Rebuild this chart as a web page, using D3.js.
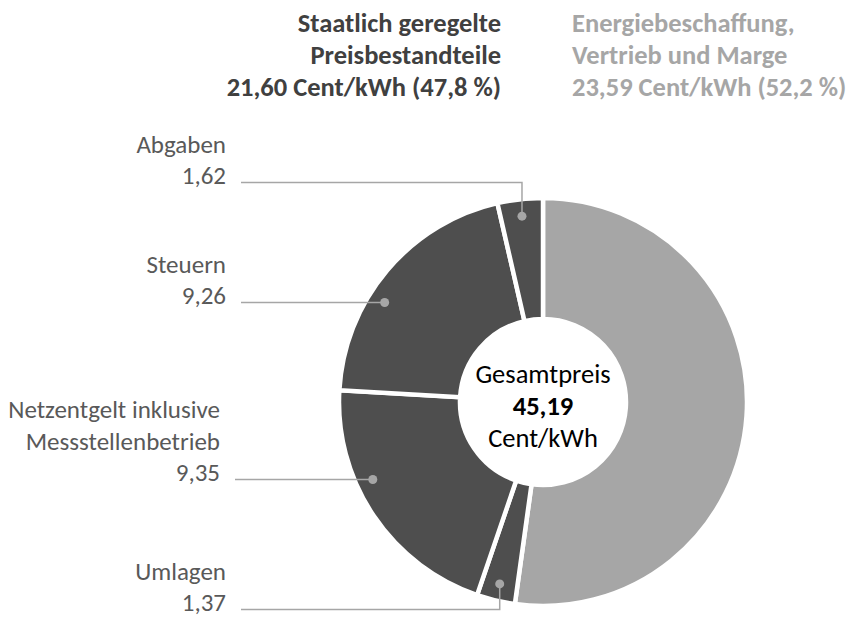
<!DOCTYPE html>
<html lang="de">
<head>
    <meta charset="utf-8">
    <title>Strompreis</title>
    <style>
        body { margin: 0; background: #fff; }
        text { font-family: Carlito, Calibri, Lato, sans-serif; }
    </style>
    <script src="https://d3js.org/d3.v7.min.js"></script>
</head>
<body>
<div id="chart"></div>
<script>
    // data (Cent/kWh)
    const categories = ["Energiebeschaffung, Vertrieb und Marge", "Umlagen",
        "Netzentgelt inklusive Messstellenbetrieb", "Steuern", "Abgaben"];
    const values = [23.59, 1.37, 9.35, 9.26, 1.62];
    const groups = ["markt", "staat", "staat", "staat", "staat"];
    const labelLines = [[], ["Umlagen"], ["Netzentgelt inklusive", "Messstellenbetrieb"], ["Steuern"], ["Abgaben"]];
    const headerStaat = ["Staatlich geregelte", "Preisbestandteile"];
    const headerMarkt = ["Energiebeschaffung,", "Vertrieb und Marge"];
    const centerTitle = "Gesamtpreis";
    const unit = "Cent/kWh";

    // layout
    const width = 849, height = 618;
    const cx = 543, cy = 402;
    const outerR = 204, innerR = 83, dotR = 187;
    const lineH = 31.5;
    // value baseline + right edge for each label (index matches categories)
    const labelPos = [null, {y: 611, x: 226}, {y: 481, x: 220}, {y: 304, x: 226}, {y: 184, x: 226}];

    const de = d3.formatLocale({decimal: ",", thousands: ".", grouping: [3], currency: ["", " €"]});
    const f2 = de.format(".2f"), f1 = de.format(".1f");

    const color = d3.scaleOrdinal().domain(["markt", "staat"]).range(["#a6a6a6", "#4e4e4e"]);

    const svg = d3.select("#chart").append("svg")
        .attr("width", width)
        .attr("height", height);

    const data = categories.map((c, i) => ({name: c, value: values[i], group: groups[i], lines: labelLines[i], pos: labelPos[i]}));
    const total = d3.sum(values);
    const staat = d3.sum(data.filter(d => d.group === "staat"), d => d.value);
    const markt = d3.sum(data.filter(d => d.group === "markt"), d => d.value);

    const pie = d3.pie().value(d => d.value).sort(null);
    const arcs = pie(data);
    const arc = d3.arc().innerRadius(innerR).outerRadius(outerR);

    const g = svg.append("g").attr("transform", `translate(${cx},${cy})`);

    g.selectAll("path.slice")
        .data(arcs)
        .join("path")
        .attr("class", "slice")
        .attr("d", arc)
        .attr("fill", d => color(d.data.group))
        .attr("stroke", "#fff")
        .attr("stroke-width", 4.5);

    // leader lines + labels for the regulated parts
    const polar = (a, r) => [r * Math.sin(a), -r * Math.cos(a)];
    arcs.filter(d => d.data.pos).forEach(d => {
        const ly = d.data.pos.y - 1.5 - cy;
        const lx0 = d.data.pos.x + 15 - cx;
        let pts;
        if (Math.abs(ly) < dotR) {
            const dx = -Math.sqrt(dotR * dotR - ly * ly);
            let a = Math.atan2(dx, -ly);
            if (a < 0) a += 2 * Math.PI;
            if (a >= d.startAngle && a <= d.endAngle) pts = [[lx0, ly], [dx, ly]];
        }
        if (!pts) {
            const m = polar((d.startAngle + d.endAngle) / 2, dotR);
            pts = [[lx0, ly], [m[0], ly], m];
        }
        g.append("path")
            .attr("d", d3.line()(pts))
            .attr("fill", "none")
            .attr("stroke", "#a6a6a6")
            .attr("stroke-width", 1.5);
        const end = pts[pts.length - 1];
        g.append("circle")
            .attr("cx", end[0]).attr("cy", end[1])
            .attr("r", 4.5)
            .attr("fill", "#a6a6a6");

        const lines = d.data.lines.concat([f2(d.data.value)]);
        const t = svg.append("text")
            .attr("text-anchor", "end")
            .attr("font-size", 25)
            .attr("fill", "#595959");
        lines.forEach((s, i) => {
            t.append("tspan")
                .attr("x", d.data.pos.x)
                .attr("y", d.data.pos.y - (lines.length - 1 - i) * lineH)
                .text(s);
        });
    });

    // centre text
    const ct = svg.append("text")
        .attr("text-anchor", "middle")
        .attr("font-size", 26.5)
        .attr("fill", "#000");
    ct.append("tspan").attr("x", cx).attr("y", 383).text(centerTitle);
    ct.append("tspan").attr("x", cx).attr("y", 415).attr("font-weight", "bold").text(f2(total));
    ct.append("tspan").attr("x", cx).attr("y", 447).text(unit);

    // headers
    const hs = headerStaat.concat([`${f2(staat)} ${unit} (${f1(staat / total * 100)} %)`]);
    const hm = headerMarkt.concat([`${f2(markt)} ${unit} (${f1(markt / total * 100)} %)`]);
    const h1 = svg.append("text").attr("text-anchor", "end").attr("font-size", 26.5)
        .attr("font-weight", "bold").attr("fill", "#404040");
    hs.forEach((s, i) => h1.append("tspan").attr("x", 501).attr("y", 31.5 + i * 32).text(s));
    const h2 = svg.append("text").attr("text-anchor", "start").attr("font-size", 26.5)
        .attr("font-weight", "bold").attr("fill", "#a6a6a6");
    hm.forEach((s, i) => h2.append("tspan").attr("x", 572).attr("y", 31.5 + i * 32).text(s));
</script>
</body>
</html>
